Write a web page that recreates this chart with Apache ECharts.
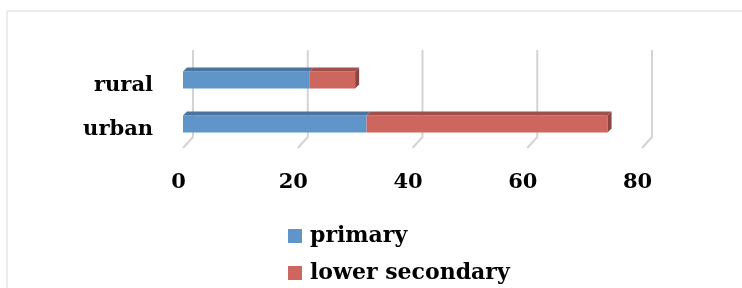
<!DOCTYPE html>
<html>
<head>
<meta charset="utf-8">
<script src="https://cdn.jsdelivr.net/npm/echarts@6/dist/echarts.min.js"></script>
<style>
    html, body { margin: 0; padding: 0; background: #fff; }
    #chart { width: 742px; height: 288px; }
</style>
</head>
<body>
<div id="chart"></div>
<script>
// data
const categories = ['urban', 'rural'];
const primary = [32, 22];
const lowerSecondary = [42, 8];
const xTicks = [0, 20, 40, 60, 80];

const FONT = 'DejaVu Serif';
const DEPTH = 4;

function shade(hex, k) {
    const n = parseInt(hex.slice(1), 16);
    const r = Math.round(((n >> 16) & 255) * k);
    const g = Math.round(((n >> 8) & 255) * k);
    const b = Math.round((n & 255) * k);
    return 'rgb(' + r + ',' + g + ',' + b + ')';
}

// stacked start / end for each segment
function segments(base, vals) {
    return vals.map((v, i) => [base[i], base[i] + v, i]);
}
const primarySeg = segments([0, 0], primary);
const secondarySeg = segments(primary, lowerSecondary);

function bar3d(color, withSide) {
    return function (params, api) {
        const a = api.coord([api.value(0), api.value(2)]);
        const b = api.coord([api.value(1), api.value(2)]);
        const h = 17;
        const y0 = a[1] - h / 2;
        const y1 = a[1] + h / 2;
        const children = [
            {
                type: 'rect',
                shape: { x: a[0], y: y0, width: b[0] - a[0], height: h },
                style: { fill: color }
            },
            {
                type: 'polygon',
                shape: { points: [[a[0], y0], [a[0] + DEPTH, y0 - DEPTH], [b[0] + DEPTH, y0 - DEPTH], [b[0], y0]] },
                style: { fill: shade(color, 0.78) }
            }
        ];
        if (withSide) {
            children.push({
                type: 'polygon',
                shape: { points: [[b[0], y0], [b[0] + DEPTH, y0 - DEPTH], [b[0] + DEPTH, y1 - DEPTH], [b[0], y1]] },
                style: { fill: shade(color, 0.68) }
            });
        }
        return { type: 'group', children: children };
    };
}

function gridLine(params, api) {
    const p = api.coord([api.value(0), 0]);
    const cs = params.coordSys;
    const bottom = cs.y + cs.height;
    return {
        type: 'polyline',
        shape: { points: [[p[0] + 10, cs.y - 8], [p[0] + 10, bottom - 9], [p[0], bottom + 2]] },
        style: { fill: 'none', stroke: '#d4d4d4', lineWidth: 2 }
    };
}

const chart = echarts.init(document.getElementById('chart'));

const option = {
    animation: false,
    backgroundColor: '#fff',
    graphic: [{
        type: 'rect',
        shape: { x: 7, y: 11, width: 760, height: 300 },
        style: { fill: 'none', stroke: '#d9d9d9', lineWidth: 1 },
        z: -10
    }],
    grid: {
        left: 183,
        top: 58,
        width: 459,
        height: 88
    },
    legend: {
        orient: 'vertical',
        left: 288,
        top: 225,
        height: 120,
        padding: 0,
        icon: 'rect',
        itemWidth: 14,
        itemHeight: 14,
        itemGap: 15,
        textStyle: { fontFamily: FONT, fontWeight: 'bold', fontSize: 22, color: '#000', padding: [0, 0, 0, 3] },
        data: ['primary', 'lower secondary']
    },
    xAxis: {
        type: 'value',
        min: 0,
        max: 80,
        interval: 20,
        axisLine: { show: false },
        axisTick: { show: false },
        splitLine: { show: false },
        axisLabel: {
            margin: 26,
            fontFamily: FONT,
            fontWeight: 'bold',
            fontSize: 21,
            color: '#000',
            padding: [0, 9, 0, 0]
        }
    },
    yAxis: {
        type: 'category',
        data: categories,
        axisLine: { show: false },
        axisTick: { show: false },
        axisLabel: {
            margin: 30,
            fontFamily: FONT,
            fontWeight: 'bold',
            fontSize: 21,
            color: '#000',
            verticalAlign: 'top',
            lineHeight: 12
        }
    },
    series: [
        {
            type: 'custom',
            name: 'grid',
            silent: true,
            z: 1,
            renderItem: gridLine,
            data: xTicks.map(v => [v])
        },
        {
            type: 'custom',
            name: 'primary',
            z: 3,
            itemStyle: { color: '#5f95c9' },
            renderItem: bar3d('#5f95c9', false),
            encode: { x: [0, 1], y: 2 },
            data: primarySeg
        },
        {
            type: 'custom',
            name: 'lower secondary',
            z: 3,
            itemStyle: { color: '#cd665f' },
            renderItem: bar3d('#cd665f', true),
            encode: { x: [0, 1], y: 2 },
            data: secondarySeg
        }
    ]
};

chart.setOption(option);
</script>
</body>
</html>
